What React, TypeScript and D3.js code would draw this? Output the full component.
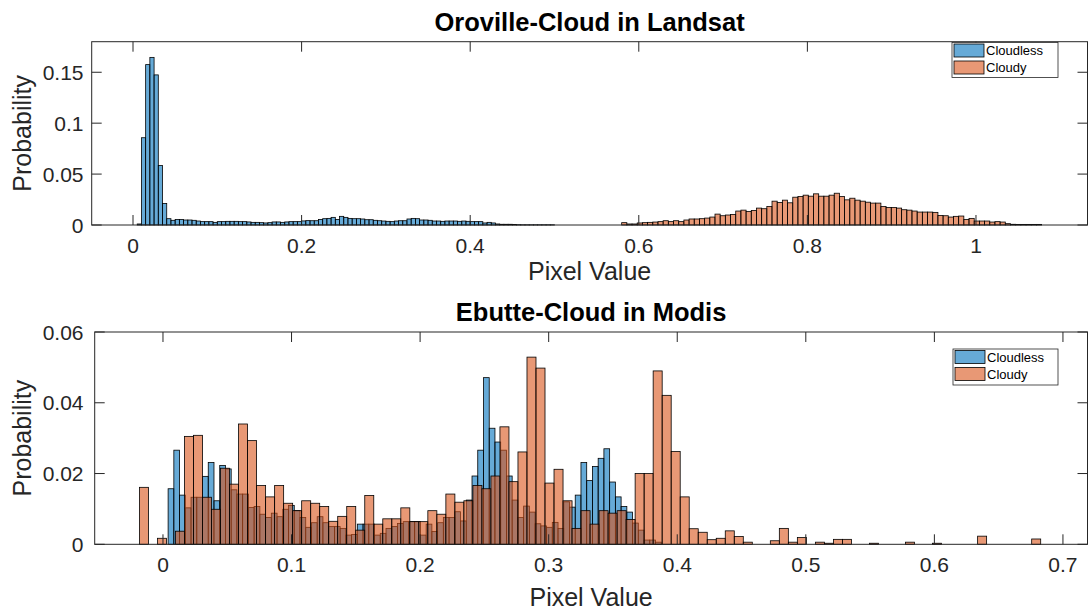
import React from "react";
import * as d3 from "d3";

const W = 1091;
const H = 614;

const CLOUDLESS = "#0072BD";
const CLOUDY = "#D95319";
const FONT = "'Liberation Sans', Arial, Helvetica, sans-serif";

// ---- top panel: Oroville-Cloud in Landsat ----
const landsatCloudlessStart = 0.005;
const landsatCloudlessWidth = 0.005;
const landsatCloudless = [
  0.001, 0.0857, 0.1575, 0.1646, 0.1474, 0.0584, 0.0212, 0.0062, 0.0046, 0.0055,
  0.0055, 0.0049, 0.0049, 0.0046, 0.0039, 0.0033, 0.0033, 0.0033, 0.0026, 0.0033,
  0.0033, 0.0036, 0.0036, 0.0036, 0.0033, 0.0033, 0.003, 0.0026, 0.0026, 0.0023,
  0.002, 0.0023, 0.003, 0.003, 0.0026, 0.003, 0.0033, 0.0033, 0.0033, 0.004,
  0.0043, 0.0042, 0.0042, 0.0055, 0.0062, 0.0065, 0.0075, 0.0055, 0.0085, 0.0075,
  0.0065, 0.0062, 0.0062, 0.0059, 0.0052, 0.0052, 0.0046, 0.0042, 0.0039, 0.0036,
  0.0033, 0.0039, 0.0042, 0.0042, 0.0059, 0.0065, 0.0062, 0.0049, 0.0049, 0.0046,
  0.0039, 0.0039, 0.0036, 0.0039, 0.0039, 0.0039, 0.0036, 0.0039, 0.0036, 0.0033,
  0.0033, 0.0033, 0.002, 0.0026, 0.002, 0.001, 0.0007, 0.0007, 0.0007, 0.0005,
  0.0003, 0.0002, 0.0002, 0.0002, 0.0002, 0.0002, 0.0002, 0.0002, 0.0002,
];
const landsatCloudyStart = 0.5797;
const landsatCloudyWidth = 0.00615;
const landsatCloudy = [
  0.0023, 0.001, 0.001, 0.002, 0.0023, 0.0026, 0.0029, 0.0033, 0.0042, 0.0033,
  0.0042, 0.0033, 0.0049, 0.0059, 0.0059, 0.0062, 0.0068, 0.0078, 0.0107, 0.0091,
  0.0098, 0.0104, 0.0137, 0.0146, 0.0133, 0.0143, 0.0166, 0.016, 0.0182, 0.0234,
  0.0221, 0.0244, 0.0218, 0.0273, 0.028, 0.0293, 0.0283, 0.0306, 0.0283, 0.0283,
  0.0293, 0.0312, 0.028, 0.0247, 0.0263, 0.0244, 0.0234, 0.0224, 0.0215, 0.0215,
  0.0182, 0.0172, 0.0172, 0.0166, 0.015, 0.0146, 0.0137, 0.0127, 0.0127, 0.0127,
  0.0124, 0.0094, 0.0091, 0.0078, 0.0085, 0.0088, 0.0055, 0.0065, 0.0039, 0.0039,
  0.0039, 0.0029, 0.0033, 0.0029, 0.0013, 0.0007, 0.0006, 0.0006, 0.0006, 0.0006,
  0.0006,
];
const landsatXTicks = [0, 0.2, 0.4, 0.6, 0.8, 1];
const landsatYTicks = [0, 0.05, 0.1, 0.15];

// ---- bottom panel: Ebutte-Cloud in Modis ----
const modisCloudlessStart = 0.004;
const modisCloudlessWidth = 0.00446;
const modisCloudless = [
  0.0157, 0.0266, 0.0139, 0.0103, 0.0133, 0.0133, 0.0192, 0.0231, 0.0123, 0.0223,
  0.0213, 0.0154, 0.0142, 0.0142, 0.0104, 0.0107, 0.0085, 0.0076, 0.0088, 0.0078,
  0.0099, 0.011, 0.0095, 0.0076, 0.0048, 0.0061, 0.0078, 0.0061, 0.005, 0.005,
  0.0045, 0.0026, 0.0028, 0.0057, 0.0057, 0.0057, 0.0026, 0.0031, 0.0045, 0.005,
  0.0059, 0.0064, 0.0064, 0.0064, 0.0026, 0.0057, 0.0036, 0.0061, 0.0076, 0.0076,
  0.0092, 0.0066, 0.0125, 0.0193, 0.0266, 0.0471, 0.0328, 0.0289, 0.0266, 0.0193,
  0.0125, 0.0076, 0.0108, 0.0091, 0.0058, 0.0052, 0.0048, 0.0062, 0.0045, 0.012,
  0.0105, 0.0139, 0.0231, 0.018, 0.022, 0.0243, 0.027, 0.0176, 0.0134, 0.0107,
  0.0091, 0.006, 0.004, 0.0012, 0.0012, 0.0006,
];
const modisCloudyStart = -0.0183;
const modisCloudyWidth = 0.00701;
const modisCloudy = [
  0.0161, 0, 0.0017, 0, 0.0037, 0.0305, 0.0308, 0.0133, 0.0099, 0.0215,
  0.017, 0.034, 0.0293, 0.0166, 0.0134, 0.0166, 0.0116, 0.0095, 0.0123, 0.0116,
  0.0107, 0.0065, 0.0079, 0.0107, 0.004, 0.0138, 0.0057, 0.0072, 0.0072, 0.0103,
  0.0064, 0.0064, 0.0095, 0.0085, 0.0142, 0.0119, 0.0123, 0.0166, 0.0157, 0.0193,
  0.0332, 0.0177, 0.0261, 0.0529, 0.0498, 0.0173, 0.0212, 0.0123, 0.0045, 0.0095,
  0.0057, 0.0095, 0.0088, 0.0095, 0.007, 0.02, 0.02, 0.049, 0.0421, 0.0262,
  0.0134, 0.0044, 0.0034, 0.0013, 0.0017, 0.0038, 0.0022, 0.0006, 0, 0,
  0.001, 0.0045, 0.0006, 0.0019, 0, 0.0006, 0.0003, 0.0014, 0.0014, 0,
  0, 0.0003, 0, 0, 0, 0.0006, 0, 0, 0.0003, 0,
  0, 0, 0, 0.0023, 0, 0, 0, 0, 0, 0.0015,
];
const modisXTicks = [0, 0.1, 0.2, 0.3, 0.4, 0.5, 0.6, 0.7];
const modisYTicks = [0, 0.02, 0.04, 0.06];

const seriesNames = ["Cloudless", "Cloudy"];

type Series = { start: number; width: number; values: number[]; color: string };

type PanelProps = {
  title: string;
  left: number;
  right: number;
  top: number;
  bottom: number;
  xDomain: [number, number];
  yDomain: [number, number];
  xTicks: number[];
  yTicks: number[];
  xLabelGap: number;
  series: Series[];
  legend: { x: number; y: number; w: number; h: number };
};

function Panel(p: PanelProps) {
  const x = d3.scaleLinear().domain(p.xDomain).range([p.left, p.right]);
  const y = d3.scaleLinear().domain(p.yDomain).range([p.bottom, p.top]);
  const fmt = (v: number) => String(+v.toFixed(3));
  const tl = 10;
  const axisColor = "#262626";
  const midX = (p.left + p.right) / 2;
  const midY = (p.top + p.bottom) / 2;

  return (
    <g>
      {p.series.map((s, si) => (
        <g key={si}>
          {s.values.map((v, i) => {
            if (v <= 0) return null;
            const x0 = x(s.start + i * s.width);
            const x1 = x(s.start + (i + 1) * s.width);
            return (
              <rect
                key={i}
                x={x0}
                y={y(v)}
                width={x1 - x0}
                height={y(0) - y(v)}
                fill={s.color}
                fillOpacity={0.6}
                stroke="#000"
                strokeWidth={0.8}
              />
            );
          })}
        </g>
      ))}

      {/* box */}
      <rect
        x={p.left}
        y={p.top}
        width={p.right - p.left}
        height={p.bottom - p.top}
        fill="none"
        stroke={axisColor}
        strokeWidth={1}
      />
      {p.xTicks.map((t) => (
        <g key={"x" + t}>
          <line x1={x(t)} x2={x(t)} y1={p.bottom} y2={p.bottom - tl} stroke={axisColor} />
          <line x1={x(t)} x2={x(t)} y1={p.top} y2={p.top + tl} stroke={axisColor} />
          <text
            x={x(t)}
            y={p.bottom + 28}
            textAnchor="middle"
            fontSize={21}
            fontFamily={FONT}
            fill={axisColor}
          >
            {fmt(t)}
          </text>
        </g>
      ))}
      {p.yTicks.map((t) => (
        <g key={"y" + t}>
          <line x1={p.left} x2={p.left + tl} y1={y(t)} y2={y(t)} stroke={axisColor} />
          <line x1={p.right} x2={p.right - tl} y1={y(t)} y2={y(t)} stroke={axisColor} />
          <text
            x={83.5}
            y={y(t) + 7.5}
            textAnchor="end"
            fontSize={21}
            fontFamily={FONT}
            fill={axisColor}
          >
            {fmt(t)}
          </text>
        </g>
      ))}

      <text
        x={midX}
        y={p.top - 11}
        textAnchor="middle"
        fontSize={25.5}
        fontWeight="bold"
        fontFamily={FONT}
        fill="#000"
      >
        {p.title}
      </text>
      <text
        x={midX}
        y={p.bottom + p.xLabelGap}
        textAnchor="middle"
        fontSize={25}
        fontFamily={FONT}
        fill={axisColor}
      >
        Pixel Value
      </text>
      <text
        transform={`translate(31,${midY}) rotate(-90)`}
        textAnchor="middle"
        fontSize={25}
        fontFamily={FONT}
        fill={axisColor}
      >
        Probability
      </text>

      {/* legend */}
      <rect
        x={p.legend.x}
        y={p.legend.y}
        width={p.legend.w}
        height={p.legend.h}
        fill="#fff"
        stroke={axisColor}
        strokeWidth={0.8}
      />
      {p.series.map((s, si) => {
        const cy = p.legend.y + 8 + si * 17;
        return (
          <g key={"l" + si}>
            <rect
              x={p.legend.x + 2}
              y={cy - 6.5}
              width={30}
              height={13}
              fill={s.color}
              fillOpacity={0.6}
              stroke="#000"
              strokeWidth={0.8}
            />
            <text
              x={p.legend.x + 34}
              y={cy + 4.5}
              fontSize={13}
              fontFamily={FONT}
              fill="#000"
            >
              {seriesNames[si]}
            </text>
          </g>
        );
      })}
    </g>
  );
}

export default function App() {
  return (
    <svg
      width={W}
      height={H}
      style={{ position: "absolute", left: 0, top: 0, background: "#fff" }}
    >
      <rect width={W} height={H} fill="#fff" />
      <Panel
        title="Oroville-Cloud in Landsat"
        left={91.7}
        right={1087.5}
        top={41.7}
        bottom={225}
        xDomain={[-0.049, 1.1323]}
        yDomain={[0, 0.18]}
        xTicks={landsatXTicks}
        yTicks={landsatYTicks}
        xLabelGap={55}
        series={[
          { start: landsatCloudlessStart, width: landsatCloudlessWidth, values: landsatCloudless, color: CLOUDLESS },
          { start: landsatCloudyStart, width: landsatCloudyWidth, values: landsatCloudy, color: CLOUDY },
        ]}
        legend={{ x: 952, y: 42.5, w: 106, h: 35 }}
      />
      <Panel
        title="Ebutte-Cloud in Modis"
        left={94.7}
        right={1087.5}
        top={332}
        bottom={544.3}
        xDomain={[-0.0531, 0.7191]}
        yDomain={[0, 0.06]}
        xTicks={modisXTicks}
        yTicks={modisYTicks}
        xLabelGap={62}
        series={[
          { start: modisCloudlessStart, width: modisCloudlessWidth, values: modisCloudless, color: CLOUDLESS },
          { start: modisCloudyStart, width: modisCloudyWidth, values: modisCloudy, color: CLOUDY },
        ]}
        legend={{ x: 953, y: 349, w: 105, h: 36 }}
      />
    </svg>
  );
}
